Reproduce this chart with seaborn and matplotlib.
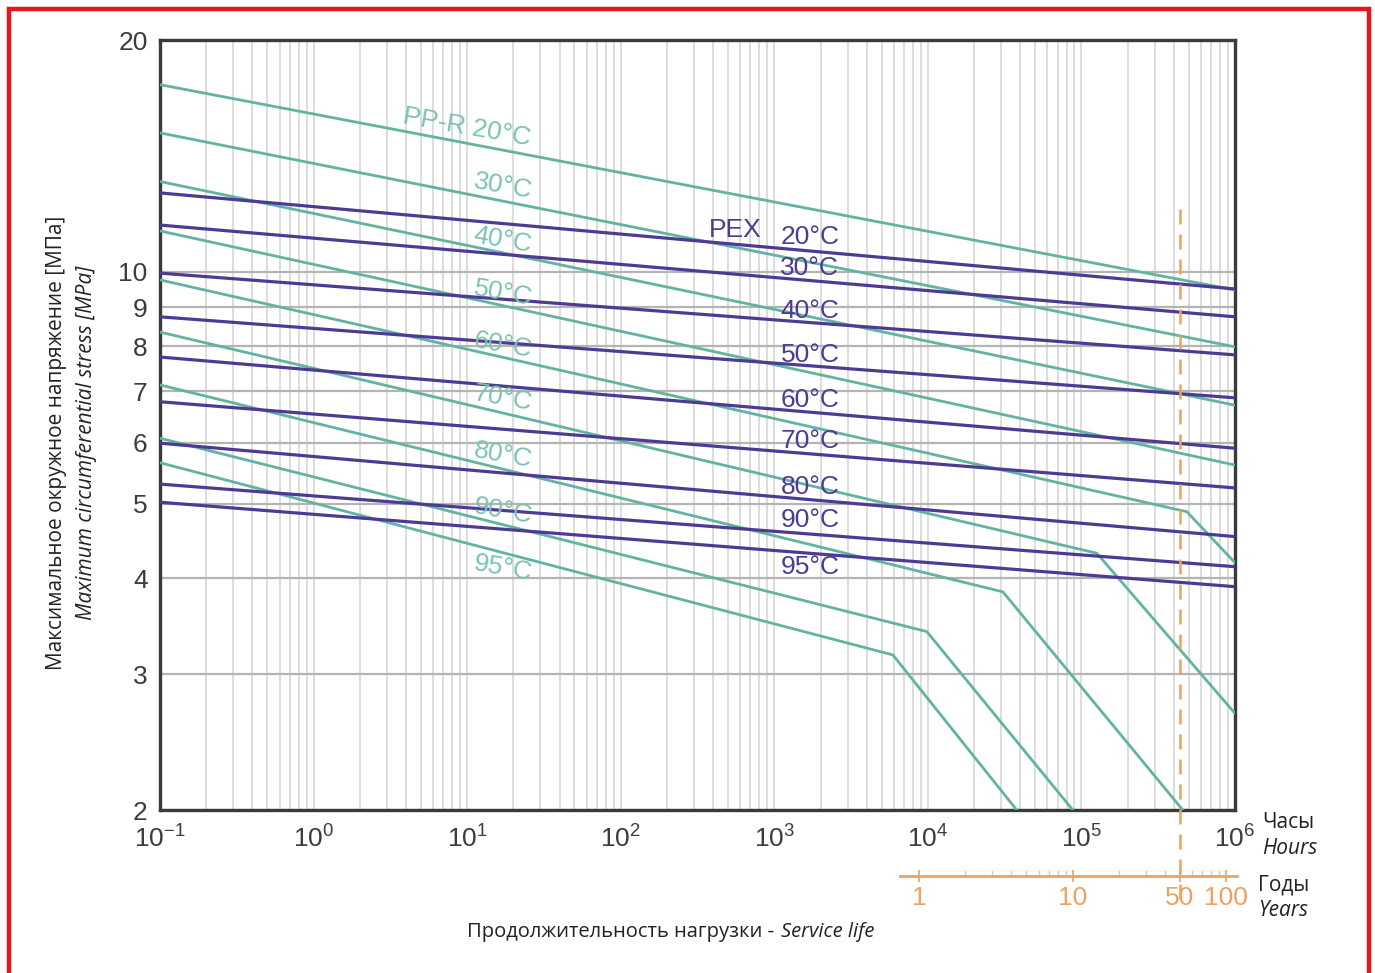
import numpy as np
import pandas as pd
import seaborn as sns
import matplotlib.pyplot as plt
from matplotlib.ticker import FixedLocator, NullLocator, NullFormatter
from matplotlib.patches import Rectangle

# --- данные (часы, МПа) ---
ppr_temps = ['20', '30', '40', '50', '60', '70', '80', '90', '95']
ppr_hours = [
    [0.1, 1e6],
    [0.1, 1e6],
    [0.1, 1e6],
    [0.1, 1e6],
    [0.1, 4.86e5, 1e6],
    [0.1, 1.26e5, 1e6],
    [0.1, 3.08e4, 4.57e5],
    [0.1, 9.84e3, 8.79e4],
    [0.1, 5.92e3, 3.79e4],
]
ppr_stress = [
    [17.5, 9.47],
    [15.15, 7.99],
    [13.1, 6.71],
    [11.3, 5.61],
    [9.76, 4.88, 4.19],
    [8.35, 4.31, 2.67],
    [7.13, 3.84, 2.0],
    [6.08, 3.41, 2.0],
    [5.65, 3.18, 2.0],
]

pex_temps = ['20', '30', '40', '50', '60', '70', '80', '90', '95']
pex_hours = [0.1, 1e6]
pex_start = [12.66, 11.50, 9.96, 8.74, 7.75, 6.78, 5.99, 5.30, 5.02]
pex_end = [9.50, 8.74, 7.80, 6.86, 5.90, 5.24, 4.53, 4.14, 3.90]

hour_ticks = [0.1, 1, 10, 100, 1e3, 1e4, 1e5, 1e6]
hour_labels = ['-1', '0', '1', '2', '3', '4', '5', '6']
stress_ticks = [2, 3, 4, 5, 6, 7, 8, 9, 10, 20]
year_ticks = [1, 10, 50, 100]
HOURS_PER_YEAR = 8760

# длинная таблица для seaborn
rows = []
for t, hs, ss in zip(ppr_temps, ppr_hours, ppr_stress):
    for h, s in zip(hs, ss):
        rows.append(('PP-R ' + t, h, s))
ppr_df = pd.DataFrame(rows, columns=['series', 'hours', 'stress'])

rows = []
for t, s0, s1 in zip(pex_temps, pex_start, pex_end):
    for h, s in zip(pex_hours, [s0, s1]):
        rows.append(('PEX ' + t, h, s))
pex_df = pd.DataFrame(rows, columns=['series', 'hours', 'stress'])

TEAL = '#62b3a2'
TEAL_TXT = '#7cc2b2'
PURPLE = '#4d3b93'
ORANGE = '#f0a060'

sns.set_style('white')
plt.rcParams['font.family'] = ['Liberation Sans', 'DejaVu Sans']
plt.rcParams['mathtext.default'] = 'regular'

fig = plt.figure(figsize=(13.75, 9.73), dpi=100)
W, H = 1375, 973
ax = fig.add_axes([160 / W, 1 - 810 / H, 1075 / W, 770 / H])
ax.set_xscale('log')
ax.set_yscale('log')
ax.set_xlim(0.1, 1e6)
ax.set_ylim(2, 20)

sns.lineplot(data=ppr_df, x='hours', y='stress', units='series', estimator=None,
             sort=False, color=TEAL, linewidth=2.0, ax=ax, zorder=3)
sns.lineplot(data=pex_df, x='hours', y='stress', units='series', estimator=None,
             sort=False, color=PURPLE, linewidth=2.3, ax=ax, zorder=4)

# сетка
ax.xaxis.set_major_locator(FixedLocator(hour_ticks))
ax.xaxis.set_minor_locator(FixedLocator([m * 10.0 ** k for k in range(-1, 6) for m in range(2, 10)]))
ax.xaxis.set_minor_formatter(NullFormatter())
ax.set_xticklabels([r'$10^{%s}$' % l for l in hour_labels])
ax.yaxis.set_major_locator(FixedLocator(stress_ticks))
ax.yaxis.set_minor_locator(NullLocator())
ax.set_yticklabels([str(v) for v in stress_ticks])
ax.set_axisbelow(True)
ax.grid(axis='x', which='both', color='#d3d3d3', lw=1.1)
ax.grid(axis='y', which='major', color='#b4b4b4', lw=1.6)
ax.tick_params(which='both', length=0)
ax.tick_params(axis='y', pad=9, labelsize=19, labelcolor='#3c3c3c')
ax.tick_params(axis='x', pad=11, labelsize=19, labelcolor='#3c3c3c')
ax.set_xlabel('')
ax.set_ylabel('')
for sp in ax.spines.values():
    sp.set_color('#3a3a3a')
    sp.set_linewidth(2.4)

# 50 лет
ax.axvline(50 * HOURS_PER_YEAR, ymin=-0.115, ymax=0.782, color=ORANGE, lw=1.8,
           ls=(0, (6, 4)), clip_on=False, zorder=5)

# подписи кривых
ppr_lab_y = [15.4, 12.9, 11.0, 9.39, 8.03, 6.86, 5.78, 4.88, 4.12]
for t, y in zip(ppr_temps, ppr_lab_y):
    if t == '20':
        ax.text(10.0, y, 'PP-R 20°C', color=TEAL_TXT, fontsize=19, rotation=-10,
                ha='center', va='center', zorder=6)
    else:
        ax.text(17.1, y, t + '°C', color=TEAL_TXT, fontsize=19, rotation=-10,
                ha='center', va='center', zorder=6)

pex_lab_y = [11.1, 10.1, 8.89, 7.80, 6.82, 6.03, 5.25, 4.76, 4.14]
ax.text(553, 11.33, 'PEX', color=PURPLE, fontsize=19, ha='center', va='center', zorder=6)
for t, y in zip(pex_temps, pex_lab_y):
    ax.text(1706, y, t + '°C', color=PURPLE, fontsize=19, ha='center', va='center', zorder=6)

# шкала лет
ax2 = fig.add_axes([160 / W, 1 - 876 / H, 1075 / W, 0.0001])
ax2.set_xscale('log')
ax2.set_xlim(0.1 / HOURS_PER_YEAR, 1e6 / HOURS_PER_YEAR)
ax2.patch.set_visible(False)
ax2.set_yticks([])
for s in ['top', 'left', 'right']:
    ax2.spines[s].set_visible(False)
ax2.spines['bottom'].set_color(ORANGE)
ax2.spines['bottom'].set_linewidth(2.0)
ax2.spines['bottom'].set_bounds(0.75, 118)
ax2.xaxis.set_major_locator(FixedLocator(year_ticks))
ax2.xaxis.set_minor_locator(FixedLocator([m for m in range(2, 10)] + [20, 30, 40, 60, 70, 80, 90]))
ax2.xaxis.set_minor_formatter(NullFormatter())
ax2.set_xticklabels([str(v) for v in year_ticks])
ax2.tick_params(axis='x', which='both', bottom=True)
ax2.tick_params(axis='x', which='major', direction='inout', length=8, width=1.2,
                color=ORANGE, labelcolor=ORANGE, labelsize=19, pad=3)
ax2.tick_params(axis='x', which='minor', direction='in', length=4, width=1.0, color='#f5c49a')

# подписи осей
fam = ['Open Sans', 'DejaVu Sans']
fig.text(57 / W, 1 - 443 / H, 'Максимальное окружное напряжение [МПа]', rotation=90,
         ha='center', va='center', fontsize=15, family=fam, color='#222222')
fig.text(87 / W, 1 - 443 / H, 'Maximum circumferential stress [MPa]', rotation=90,
         ha='center', va='center', fontsize=15, family=fam, style='italic', color='#222222')
fig.text(779 / W, 1 - 932 / H, 'Продолжительность нагрузки - ', ha='right', va='center',
         fontsize=14.5, family=fam, color='#222222')
fig.text(781 / W, 1 - 932 / H, 'Service life', ha='left', va='center',
         fontsize=14.5, family=fam, style='italic', color='#222222')
fig.text(1262 / W, 1 - 822 / H, 'Часы', ha='left', va='center', fontsize=15, family=fam, color='#222222')
fig.text(1262 / W, 1 - 848 / H, 'Hours', ha='left', va='center', fontsize=15, family=fam,
         style='italic', color='#222222')
fig.text(1258 / W, 1 - 885 / H, 'Годы', ha='left', va='center', fontsize=15, family=fam, color='#222222')
fig.text(1258 / W, 1 - 910 / H, 'Years', ha='left', va='center', fontsize=15, family=fam,
         style='italic', color='#222222')

# красная рамка
fig.patches.append(Rectangle((9 / W, -0.05), 1360 / W, 1.05 - 9 / H, transform=fig.transFigure,
                             fill=False, edgecolor='#e8141c', lw=3.2, clip_on=False))

fig.savefig('out.png', dpi=100)
